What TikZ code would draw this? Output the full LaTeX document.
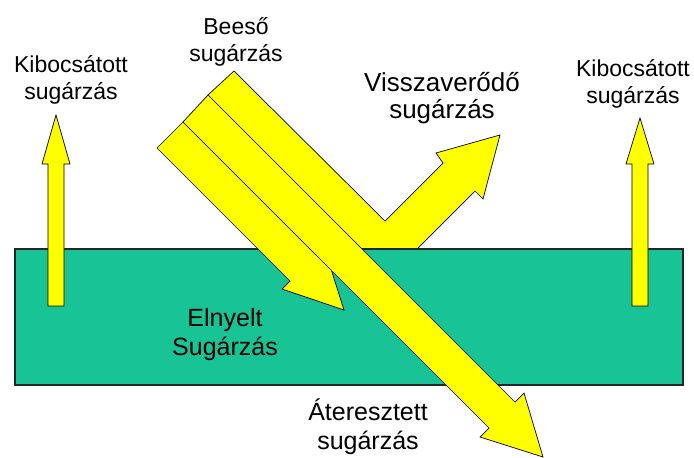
\documentclass[tikz,border=0pt]{standalone}
\usepackage{fontspec}
\setmainfont{Liberation Sans}
\definecolor{beamyellow}{RGB}{255,255,0}
\definecolor{slabgreen}{RGB}{24,196,150}

\begin{document}
\begin{tikzpicture}[
    x=1pt, y=-1pt,
    beam/.style={draw=black, fill=beamyellow, line width=0.7pt, line join=miter},
    slab/.style={draw=black!85, fill=slabgreen, line width=2.2pt, inner sep=0pt},
    lbl/.style={align=center, inner sep=0pt, font=\fontsize{23}{27}\selectfont},
    biglbl/.style={lbl, font=\fontsize{25}{29}\selectfont}
]
  \useasboundingbox (0,0) rectangle (694,458);

  \draw[beam] (234,71) -- (385,221) -- (443,163) -- (436,153) -- (500,135) -- (483,199)
    -- (475,191) -- (418,248) -- (389,276) -- (208,95) -- cycle;

  \node[slab, minimum width=668pt, minimum height=136pt, anchor=north west] (slab) at (14,248) {};

  \draw[beam] (157,148) -- (290,281) -- (282,289) -- (344,310) -- (324,247) -- (316,255)
    -- (183,122) -- cycle;
  \draw[beam] (183,122) -- (489,428) -- (480,437) -- (543,457) -- (524,393) -- (515,402)
    -- (208,95) -- cycle;

  \foreach \cx/\tip in {56/115, 640/118} {
    \draw[beam] (\cx-8,306) -- (\cx-8,164) -- (\cx-14,164) -- (\cx,\tip) -- (\cx+14,164)
      -- (\cx+8,164) -- (\cx+8,306) -- cycle;
  }

  \node[lbl] (emit-left) at (71,80) {Kibocsátott\\sugárzás};
  \node[lbl] (emit-right) at (633,84) {Kibocsátott\\sugárzás};
  \node[lbl] (incident) at (236,42) {Beeső\\sugárzás};
  \node[lbl, font=\fontsize{26}{27}\selectfont] (reflected) at (442,98) {Visszaverődő\\sugárzás};
  \node[biglbl] (absorbed) at (225,335) {Elnyelt\\Sugárzás};
  \node[biglbl] (transmitted) at (368,427) {Áteresztett\\sugárzás};
\end{tikzpicture}
\end{document}
